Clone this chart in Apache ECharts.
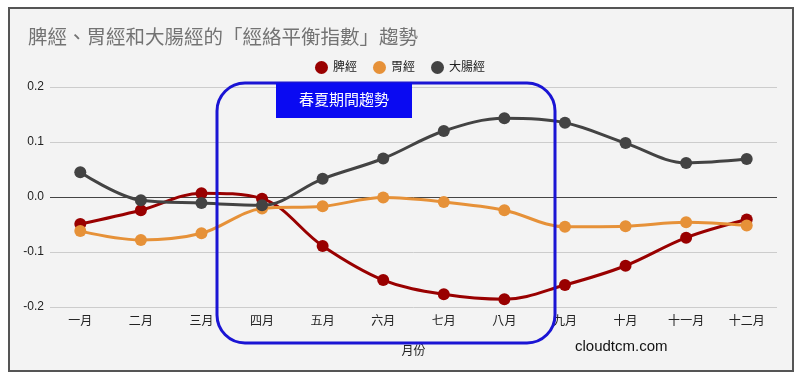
<!DOCTYPE html>
<html>
<head>
<meta charset="utf-8">
<script src="https://cdn.jsdelivr.net/npm/echarts@6/dist/echarts.min.js"></script>
<style>
html,body{margin:0;padding:0;background:#fff;}
#chart{width:800px;height:381px;}
</style>
</head>
<body>
<div id="chart"></div>
<script>
const months = ['一月','二月','三月','四月','五月','六月','七月','八月','九月','十月','十一月','十二月'];
const spleen = [-0.049, -0.024, 0.007, -0.003, -0.089, -0.151, -0.177, -0.186, -0.160, -0.125, -0.074, -0.041];
const stomach = [-0.062, -0.078, -0.066, -0.021, -0.017, -0.001, -0.009, -0.024, -0.054, -0.053, -0.046, -0.052];
const colon = [0.045, -0.006, -0.011, -0.015, 0.033, 0.070, 0.120, 0.143, 0.135, 0.098, 0.062, 0.069];
const yTicks = {min: -0.2, max: 0.2, interval: 0.1};

const FONT = '"Liberation Sans","Noto Sans CJK TC",sans-serif';
const chart = echarts.init(document.getElementById('chart'), null, {renderer: 'canvas'});

function mk(name, data, color) {
  return {
    name, type: 'line', data, smooth: 0.35,
    symbol: 'circle', symbolSize: 12,
    lineStyle: {width: 3, color},
    itemStyle: {color},
    emphasis: {disabled: true},
    z: 3
  };
}

chart.setOption({
  animation: false,
  textStyle: {fontFamily: FONT},
  title: {
    text: '脾經、胃經和大腸經的「經絡平衡指數」趨勢',
    left: 23, top: 24,
    textStyle: {fontSize: 19.5, fontWeight: 'normal', color: '#737373', fontFamily: FONT}
  },
  legend: {
    top: 56, left: 'center',
    icon: 'circle', itemWidth: 13, itemHeight: 13, itemGap: 16,
    textStyle: {fontSize: 12, color: '#222', fontFamily: FONT},
    data: ['脾經', '胃經', '大腸經']
  },
  grid: {left: 50, right: 23, top: 87, bottom: 74},
  xAxis: {
    type: 'category', data: months, boundaryGap: true,
    name: '月份', nameLocation: 'middle', nameGap: 39,
    nameTextStyle: {fontSize: 12, color: '#222', fontFamily: FONT},
    axisLine: {show: false}, axisTick: {show: false},
    axisLabel: {fontSize: 12, color: '#222', margin: 9, fontFamily: FONT}
  },
  yAxis: {
    type: 'value', min: yTicks.min, max: yTicks.max, interval: yTicks.interval,
    axisLine: {show: false}, axisTick: {show: false},
    axisLabel: {fontSize: 12, color: '#222', margin: 6, fontFamily: FONT,
      formatter: v => v.toFixed(1)},
    splitLine: {show: true, lineStyle: {width: 1, color: ['#cccccc','#cccccc','#444444','#cccccc','#cccccc']}}
  },
  series: [
    mk('脾經', spleen, '#990000'),
    mk('胃經', stomach, '#e69138'),
    mk('大腸經', colon, '#434343')
  ],
  graphic: [
    {type: 'rect', z: -10, silent: true,
      shape: {x: 9, y: 8, width: 784, height: 363},
      style: {fill: '#f3f3f3', stroke: '#555', lineWidth: 2}},
    {type: 'rect', z: 50, silent: true,
      shape: {x: 217, y: 83, width: 338, height: 260, r: 28},
      style: {fill: 'none', stroke: '#1a14d4', lineWidth: 3}},
    {type: 'rect', z: 51, silent: true,
      shape: {x: 276, y: 83, width: 136, height: 35},
      style: {fill: '#0a0af2'}},
    {type: 'text', z: 52, silent: true, x: 344, y: 101,
      style: {text: '春夏期間趨勢', fill: '#fff', fontSize: 15, fontFamily: FONT,
        align: 'center', verticalAlign: 'middle'}},
    {type: 'text', z: 52, silent: true, x: 575, y: 347,
      style: {text: 'cloudtcm.com', fill: '#111', fontSize: 15, fontFamily: FONT,
        align: 'left', verticalAlign: 'middle'}}
  ]
});
</script>
</body>
</html>
